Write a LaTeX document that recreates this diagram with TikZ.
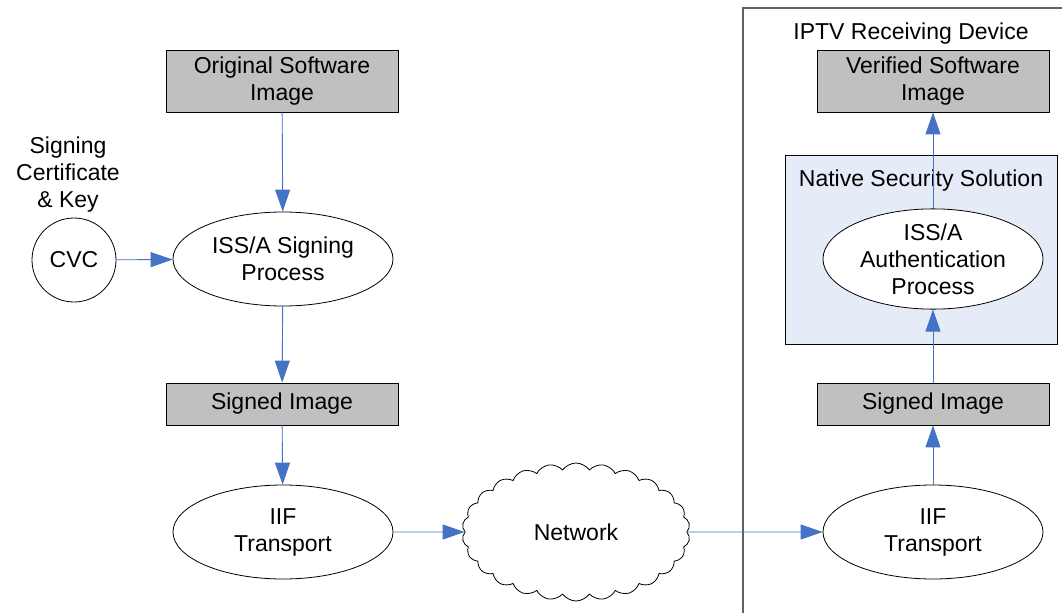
\documentclass[tikz,border=0pt]{standalone}
\usepackage{fontspec}
\setmainfont{Liberation Sans}
\usetikzlibrary{arrows.meta,shapes.geometric,shapes.symbols}
\definecolor{boxgray}{HTML}{C0C0C0}
\definecolor{arrowblue}{HTML}{4472C4}
\definecolor{nssfill}{HTML}{E6ECF7}
\definecolor{framegray}{HTML}{606060}
\begin{document}
\begin{tikzpicture}[x=1pt,y=-1pt,
  every node/.style={font=\fontsize{23}{27}\selectfont, align=center, inner sep=0pt},
  graybox/.style={draw=black, fill=boxgray, line width=0.8pt, minimum width=232pt},
  proc/.style={draw=black, fill=white, ellipse, line width=0.8pt, minimum width=220pt, minimum height=94pt},
  flow/.style={draw=arrowblue, line width=0.9pt, -{Triangle[length=22pt,width=15pt]}, shorten >=0pt}
]
\useasboundingbox (0,0) rectangle (1062,613);
% device frame
\draw[framegray, line width=1.3pt] (743,613) -- (743,8) -- (1062,8);
\node (iptv) at (911,34) {IPTV Receiving Device};
% native security box
\node[draw=black, fill=nssfill, line width=0.8pt, minimum width=272pt, minimum height=189pt] (nss) at (921,249.5) {};
\node (nsslbl) at (921,181) {Native Security Solution};
% left column
\node[graybox, minimum height=62pt] (orig) at (282,81) {Original Software\\Image};
\node[proc] (sign) at (283,259) {ISS/A Signing\\Process};
\node[draw=black, fill=white, circle, line width=0.8pt, minimum size=84pt] (cvc) at (74,260) {CVC};
\node (certlbl) at (68,175) {Signing\\Certificate\\\& Key};
\node[graybox, minimum height=42pt] (signed) at (282,404) {Signed Image};
\node[proc] (iifl) at (283,532) {IIF\\Transport};
\node[cloud, draw=black, fill=white, line width=0.8pt, cloud puffs=26, cloud puff arc=110, aspect=1.63, minimum width=228pt, minimum height=138pt] (net) at (576,532) {Network};
% right column
\node[proc] (iifr) at (933,532) {IIF\\Transport};
\node[graybox, minimum height=42pt] (signedr) at (933,404) {Signed Image};
\node[proc] (auth) at (933,259) {ISS/A\\Authentication\\Process};
\node[graybox, minimum height=62pt] (verif) at (933,81) {Verified Software\\Image};
% connectors
\draw[flow] (orig) -- (sign);
\draw[flow] (cvc) -- (sign);
\draw[flow] (sign) -- (signed);
\draw[flow] (signed) -- (iifl);
\draw[flow] (iifl) -- (net);
\draw[flow] (net) -- (iifr);
\draw[flow] (iifr) -- (signedr);
\draw[flow] (signedr) -- (auth);
\draw[flow] (auth) -- (verif);
\end{tikzpicture}
\end{document}
